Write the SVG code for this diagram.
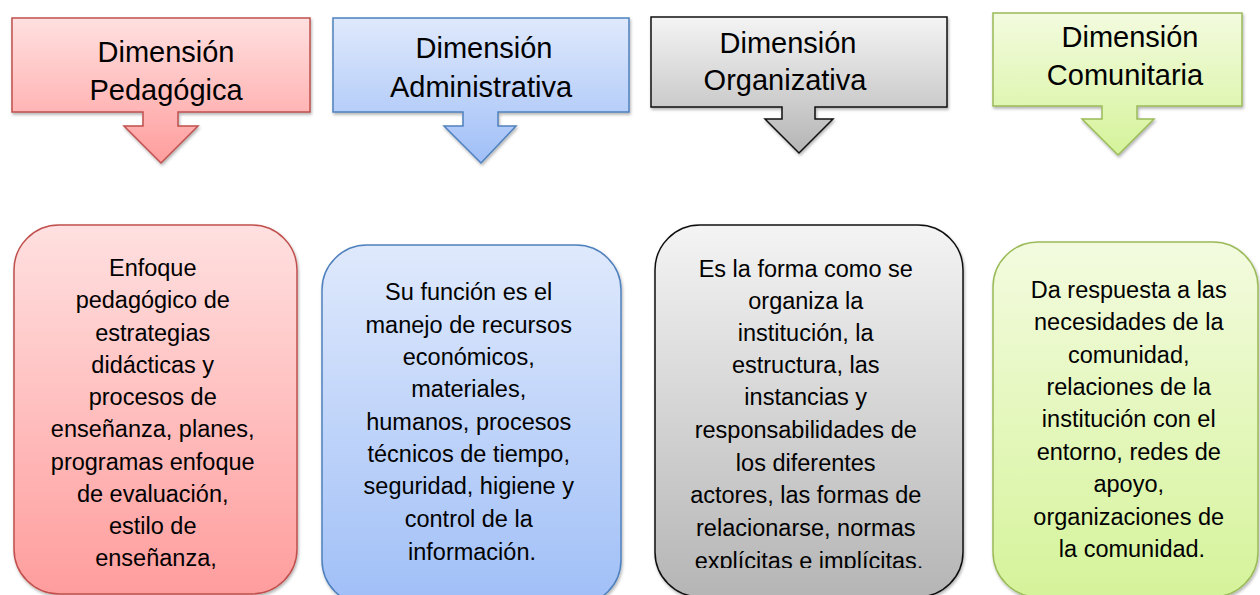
<svg xmlns="http://www.w3.org/2000/svg" width="1260" height="595" viewBox="0 0 1260 595">
<style>
.t{font-family:"Liberation Sans",Arial,sans-serif;fill:#000;text-anchor:middle}
.h{font-size:29px}
.b{font-size:23.5px}
</style>
<defs>
<linearGradient id="gr" x1="0" y1="0" x2="0" y2="1"><stop offset="0" stop-color="#ffe0e0"/><stop offset="1" stop-color="#ff9d9d"/></linearGradient>
<linearGradient id="gb" x1="0" y1="0" x2="0" y2="1"><stop offset="0" stop-color="#dfe9fc"/><stop offset="1" stop-color="#a0bff7"/></linearGradient>
<linearGradient id="gg" x1="0" y1="0" x2="0" y2="1"><stop offset="0" stop-color="#f4f4f4"/><stop offset="1" stop-color="#b5b5b5"/></linearGradient>
<linearGradient id="gn" x1="0" y1="0" x2="0" y2="1"><stop offset="0" stop-color="#f3fbdf"/><stop offset="1" stop-color="#d5f39a"/></linearGradient>
<filter id="sh" x="-10%" y="-10%" width="120%" height="120%"><feDropShadow dx="1" dy="2" stdDeviation="1.5" flood-color="#000" flood-opacity="0.3"/></filter>
<clipPath id="cg"><rect x="655" y="225" width="308" height="343"/></clipPath>
</defs>
<g id="connectors"></g>
<g id="ped-head">
<path d="M12,18 H310 V112 H178 V126 H198 L161,163 L124,126 H143 V112 H12 Z" fill="url(#gr)" stroke="#c0504d" stroke-width="1.5" filter="url(#sh)"/>
<text class="t h" x="166" y="62">Dimensión</text>
<text class="t h" x="166" y="100">Pedagógica</text>
</g>
<g id="adm-head">
<path d="M333,18 H629 V112 H498 V126 H516 L481,163 L444,126 H463 V112 H333 Z" fill="url(#gb)" stroke="#4f81bd" stroke-width="1.5" filter="url(#sh)"/>
<text class="t h" x="484" y="58">Dimensión</text>
<text class="t h" x="481" y="97">Administrativa</text>
</g>
<g id="org-head">
<path d="M651,17 H947 V107 H815 V119 H833 L799,153 L765,119 H782 V107 H651 Z" fill="url(#gg)" stroke="#111" stroke-width="1.5" filter="url(#sh)"/>
<text class="t h" x="788" y="53">Dimensión</text>
<text class="t h" x="785" y="90">Organizativa</text>
</g>
<g id="com-head">
<path d="M993,13 H1242 V106 H1137 V119 H1154 L1118,155 L1082,119 H1102 V106 H993 Z" fill="url(#gn)" stroke="#9bbb59" stroke-width="1.5" filter="url(#sh)"/>
<text class="t h" x="1130" y="47">Dimensión</text>
<text class="t h" x="1125" y="85">Comunitaria</text>
</g>
<g id="ped-body">
<rect x="14" y="225" width="283" height="369" rx="45" fill="url(#gr)" stroke="#c0504d" stroke-width="1.5" filter="url(#sh)"/>
<text class="t b">
<tspan x="156" y="276">Enfoque</tspan>
<tspan x="156" y="308">pedagógico de</tspan>
<tspan x="156" y="341">estrategias</tspan>
<tspan x="156" y="373">didácticas y</tspan>
<tspan x="156" y="405">procesos de</tspan>
<tspan x="156" y="437">enseñanza, planes,</tspan>
<tspan x="156" y="470">programas enfoque</tspan>
<tspan x="156" y="502">de evaluación,</tspan>
<tspan x="156" y="534">estilo de</tspan>
<tspan x="156" y="566">enseñanza,</tspan>
</text>
</g>
<g id="adm-body">
<rect x="322" y="245" width="299" height="360" rx="45" fill="url(#gb)" stroke="#4f81bd" stroke-width="1.5" filter="url(#sh)"/>
<text class="t b">
<tspan x="472" y="300">Su función es el</tspan>
<tspan x="472" y="333">manejo de recursos</tspan>
<tspan x="472" y="365">económicos,</tspan>
<tspan x="472" y="397">materiales,</tspan>
<tspan x="472" y="430">humanos, procesos</tspan>
<tspan x="472" y="462">técnicos de tiempo,</tspan>
<tspan x="472" y="494">seguridad, higiene y</tspan>
<tspan x="472" y="527">control de la</tspan>
<tspan x="472" y="560">información.</tspan>
</text>
</g>
<g id="org-body">
<rect x="655" y="225" width="308" height="372" rx="45" fill="url(#gg)" stroke="#111" stroke-width="1.5" filter="url(#sh)"/>
<text class="t b" clip-path="url(#cg)">
<tspan x="809" y="277">Es la forma como se</tspan>
<tspan x="809" y="309">organiza la</tspan>
<tspan x="809" y="341">institución, la</tspan>
<tspan x="809" y="373">estructura, las</tspan>
<tspan x="809" y="405">instancias y</tspan>
<tspan x="809" y="438">responsabilidades de</tspan>
<tspan x="809" y="471">los diferentes</tspan>
<tspan x="809" y="503">actores, las formas de</tspan>
<tspan x="809" y="536">relacionarse, normas</tspan>
<tspan x="809" y="569">explícitas e implícitas.</tspan>
</text>
</g>
<g id="com-body">
<rect x="993" y="242" width="265" height="355" rx="45" fill="url(#gn)" stroke="#9bbb59" stroke-width="1.5" filter="url(#sh)"/>
<text class="t b">
<tspan x="1132" y="298">Da respuesta a las</tspan>
<tspan x="1132" y="330">necesidades de la</tspan>
<tspan x="1132" y="363">comunidad,</tspan>
<tspan x="1132" y="395">relaciones de la</tspan>
<tspan x="1132" y="427">institución con el</tspan>
<tspan x="1132" y="460">entorno, redes de</tspan>
<tspan x="1132" y="492">apoyo,</tspan>
<tspan x="1132" y="525">organizaciones de</tspan>
<tspan x="1132" y="557">la comunidad.</tspan>
</text>
</g>
</svg>
